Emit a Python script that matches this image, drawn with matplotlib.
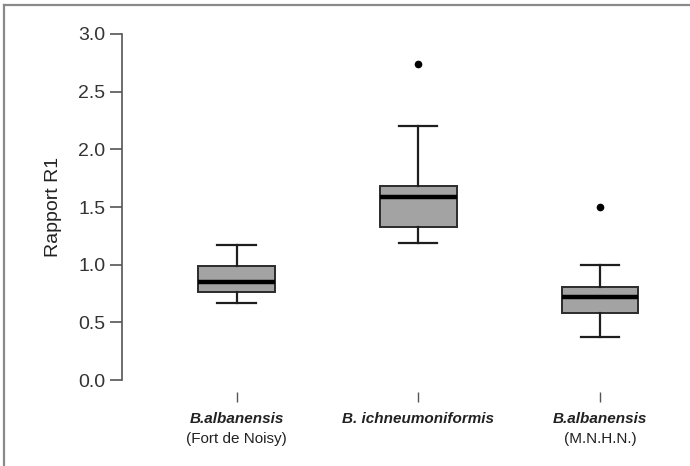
import matplotlib
matplotlib.use("Agg")
import matplotlib.pyplot as plt
from matplotlib.lines import Line2D

plt.rcParams['font.family'] = ['Liberation Sans', 'DejaVu Sans']

# box statistics
species = ["B.albanensis", "B. ichneumoniformis", "B.albanensis"]
origin = ["(Fort de Noisy)", "", "(M.N.H.N.)"]
whislo = [0.665, 1.19, 0.37]
q1 = [0.76, 1.33, 0.58]
med = [0.85, 1.59, 0.72]
q3 = [0.99, 1.68, 0.81]
whishi = [1.17, 2.20, 1.00]
fliers = [[], [2.74], [1.50]]
yticks = [0.0, 0.5, 1.0, 1.5, 2.0, 2.5, 3.0]


def make_stats():
    stats = []
    for i in range(len(species)):
        stats.append(dict(whislo=whislo[i], q1=q1[i], med=med[i], q3=q3[i],
                          whishi=whishi[i], fliers=fliers[i]))
    return stats


def main():
    fig = plt.figure(figsize=(6.9, 4.66), dpi=100)
    ax = fig.add_axes([122 / 690, 1 - 392 / 466, 560 / 690, 370 / 466])

    positions = [1, 2, 3]
    ax.bxp(make_stats(), positions=positions, widths=0.42, patch_artist=True,
           showfliers=True,
           boxprops=dict(facecolor='#a3a3a3', edgecolor='#2b2b2b', linewidth=1.4),
           medianprops=dict(color='black', linewidth=3.2, solid_capstyle='butt'),
           whiskerprops=dict(color='#1e1e1e', linewidth=1.6),
           capprops=dict(color='#1e1e1e', linewidth=1.6),
           capwidths=0.21,
           flierprops=dict(marker='o', markersize=4.5, markerfacecolor='black',
                           markeredgecolor='black'))

    ax.set_xlim(0.37, 3.45)
    ax.set_ylim(-0.104, 3.104)

    for side in ['top', 'right', 'bottom']:
        ax.spines[side].set_visible(False)
    ax.spines['left'].set_bounds(0, 3)
    ax.spines['left'].set_color('#555555')
    ax.spines['left'].set_linewidth(1.2)

    ax.set_yticks(yticks)
    ax.set_yticklabels([f"{v:.1f}" for v in yticks])
    ax.tick_params(axis='y', length=9, width=1.2, color='#555555',
                   labelsize=14, labelcolor='#333333', pad=3)

    ax.set_xticks(positions)
    ax.set_xticklabels([])
    ax.tick_params(axis='x', length=7, width=1.0, color='#555555', pad=0)

    # two-line tick labels: bold italic species, plain origin
    for p, sp, orig in zip(positions, species, origin):
        ax.text(p, -0.34, sp, transform=ax.transData, ha='center', va='center',
                fontsize=11, fontweight='bold', fontstyle='italic', color='#222222',
                clip_on=False)
        if orig:
            ax.text(p, -0.51, orig, transform=ax.transData, ha='center', va='center',
                    fontsize=11, color='#222222', clip_on=False)

    ax.set_ylabel("Rapport R1", fontsize=14, color='#222222', labelpad=12)

    # grey frame (top and left edges only)
    fig.add_artist(Line2D([4 / 690, 1], [1 - 5 / 466, 1 - 5 / 466],
                          transform=fig.transFigure, color='#8a8a8a', linewidth=1.6))
    fig.add_artist(Line2D([4 / 690, 4 / 690], [0, 1 - 5 / 466],
                          transform=fig.transFigure, color='#8a8a8a', linewidth=1.6))

    fig.savefig("out.png", dpi=100)


if __name__ == "__main__":
    main()
